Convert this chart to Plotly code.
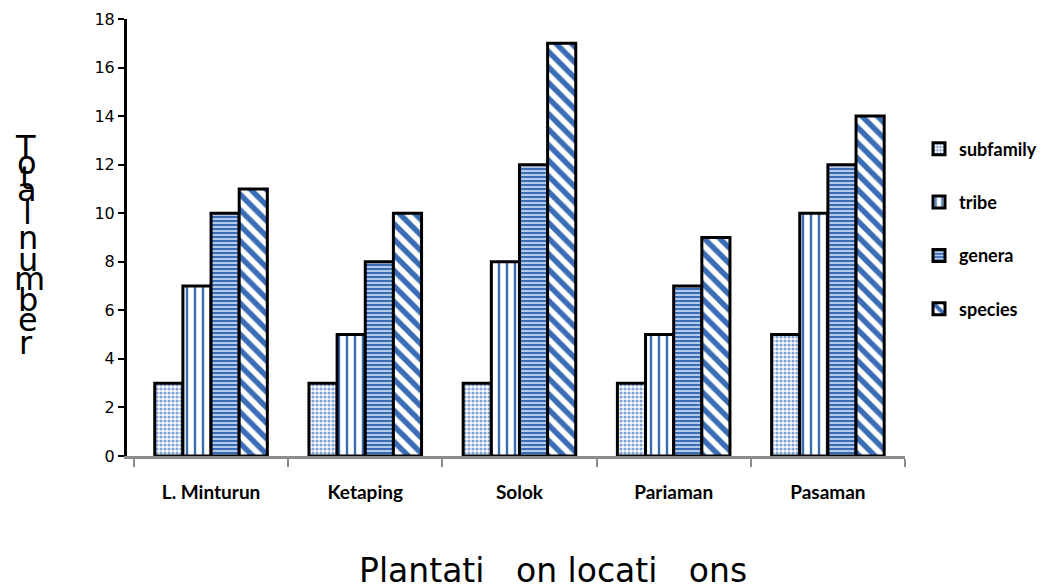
import plotly.graph_objects as go

# Plantation locations and counts per taxonomic level
locations = ["L. Minturun", "Ketaping", "Solok", "Pariaman", "Pasaman"]
subfamily = [3, 3, 3, 3, 5]
tribe = [7, 5, 8, 5, 10]
genera = [10, 8, 12, 7, 12]
species = [11, 10, 17, 9, 14]

series = [
    ("subfamily", subfamily, dict(shape=".", fgcolor="#7fa3d6", bgcolor="#ffffff", size=4, solidity=0.5)),
    ("tribe", tribe, dict(shape="|", fgcolor="#3a6db5", bgcolor="#ffffff", size=8, solidity=0.3)),
    ("genera", genera, dict(shape="-", fgcolor="#3a6db5", bgcolor="#c2d4ee", size=4, solidity=0.55)),
    ("species", species, dict(shape="\\", fgcolor="#3a6db5", bgcolor="#ffffff", size=11, solidity=0.5)),
]

fig = go.Figure()
for name, vals, pat in series:
    pat = dict(pat, fgopacity=1)
    fig.add_trace(go.Bar(
        name=name, x=locations, y=vals,
        legendgroup=name,
        marker=dict(color="#ffffff", pattern=pat, line=dict(color="#000000", width=3)),
    ))

fig.update_layout(
    width=1049, height=584,
    margin=dict(l=127, r=144, t=19, b=128, autoexpand=False),
    paper_bgcolor="#ffffff", plot_bgcolor="#ffffff",
    barmode="group", bargap=0.27, bargroupgap=0,
    showlegend=True,
    legend=dict(
        x=1.018, xanchor="left", y=0.745, yanchor="top",
        font=dict(family="Lato", size=18, color="#000000", weight="bold"),
        tracegroupgap=27, itemwidth=30,
        bgcolor="rgba(0,0,0,0)",
    ),
    font=dict(family="DejaVu Sans", color="#000000"),
)

fig.update_xaxes(
    range=[-0.545, 4.5],
    showline=True, linecolor="#8c8c8c", linewidth=3,
    ticks="outside", tickson="boundaries", ticklen=8, tickwidth=2, tickcolor="#8c8c8c",
    ticklabelstandoff=17,
    tickfont=dict(family="Lato", size=19, color="#000000", weight="bold"),
    showgrid=False, zeroline=False,
)
fig.update_yaxes(
    range=[0, 18], dtick=2,
    showline=True, linecolor="#000000", linewidth=3,
    ticks="outside", ticklen=6, tickwidth=2, tickcolor="#000000",
    tickfont=dict(family="DejaVu Sans", size=16, color="#000000"),
    showgrid=False, zeroline=False,
)

# x axis title
fig.add_annotation(
    text="Plantati\u00a0\u00a0\u00a0on\u00a0locati\u00a0\u00a0\u00a0ons",
    xref="paper", yref="paper", x=(553 - 127) / 778, y=0, yanchor="middle",
    yshift=-(570 - 456), showarrow=False,
    font=dict(family="DejaVu Sans", size=33, color="#000000"),
)

# y axis title, letters stacked vertically
letters = ["T", "o", "t", "a", "l", "n", "u", "m", "b", "e", "r"]
letter_y = [147, 163, 178, 190, 213, 238, 260, 279, 300, 320, 343]
letter_x = [25, 27, 26, 27, 27, 28, 28, 29, 28, 28, 26]
for ch, py, px in zip(letters, letter_y, letter_x):
    fig.add_annotation(
        text=ch, xref="paper", yref="paper",
        x=0, y=1, xanchor="center", yanchor="middle",
        xshift=px - 127, yshift=-(py - 19), showarrow=False,
        font=dict(family="DejaVu Sans", size=32, color="#000000"),
    )

fig.write_html("out.html")
